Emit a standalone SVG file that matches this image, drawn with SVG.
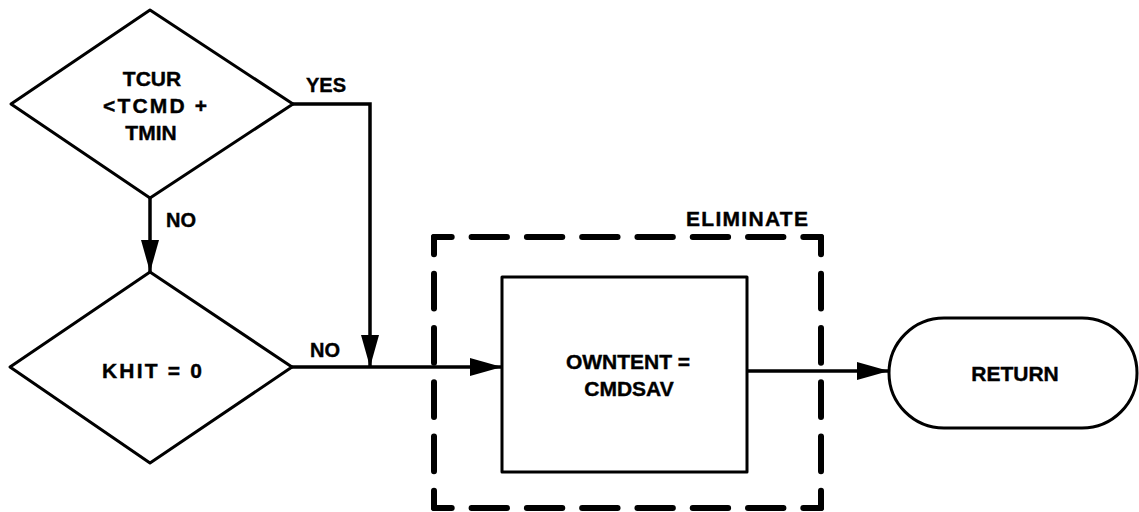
<svg xmlns="http://www.w3.org/2000/svg" width="1139" height="512" viewBox="0 0 1139 512">
  <style>
    .shape { fill: #fff; stroke: #000; stroke-width: 3; stroke-linejoin: round; }
    .conn { fill: none; stroke: #000; stroke-width: 3.5; }
    .dash { fill: none; stroke: #000; stroke-width: 6; stroke-linecap: round; stroke-dasharray: 64 36; stroke-dashoffset: 32; }
    text { font-family: "Liberation Sans", Arial, sans-serif; font-weight: bold; fill: #000; stroke: #000; stroke-width: 0.4; text-anchor: middle; dominant-baseline: central; }
    .t { font-size: 21px; }
    .lbl { font-size: 20px; }
  </style>
  <defs>
    <marker id="arrow" markerUnits="userSpaceOnUse" markerWidth="32" markerHeight="18" refX="32" refY="9" orient="auto">
      <path d="M0,0 L32,9 L0,18 Z" fill="#000"/>
    </marker>
  </defs>

  <g id="connectors">
    <polyline class="conn" points="293,104 370,104 370,367" marker-end="url(#arrow)"/>
    <line class="conn" x1="150" y1="198" x2="150" y2="272" marker-end="url(#arrow)"/>
    <line class="conn" x1="292" y1="367" x2="502" y2="367" marker-end="url(#arrow)"/>
    <line class="conn" x1="747" y1="371" x2="889" y2="371" marker-end="url(#arrow)"/>
    <text class="lbl" x="326" y="85">YES</text>
    <text class="lbl" x="181" y="220">NO</text>
    <text class="lbl" x="325" y="350">NO</text>
  </g>

  <g id="decision-tcur">
    <polygon class="shape" points="150,10 293,104 150,198 11,104"/>
    <text class="t" x="152" y="78">TCUR</text>
    <text class="t" x="155" y="105" textLength="104" lengthAdjust="spacing">&lt;TCMD +</text>
    <text class="t" x="151" y="132">TMIN</text>
  </g>

  <g id="decision-khit">
    <polygon class="shape" points="150,272 292,367 150,463 10,367"/>
    <text class="t" x="152" y="370" textLength="100" lengthAdjust="spacing">KHIT = 0</text>
  </g>

  <g id="eliminate">
    <line class="dash" x1="434" y1="237" x2="821" y2="237" pathLength="700"/>
    <line class="dash" x1="821" y1="237" x2="821" y2="508" pathLength="500"/>
    <line class="dash" x1="821" y1="508" x2="434" y2="508" pathLength="700"/>
    <line class="dash" x1="434" y1="508" x2="434" y2="237" pathLength="500"/>
    <text class="t" x="747" y="218" textLength="122" lengthAdjust="spacing">ELIMINATE</text>
  </g>

  <g id="process-owntent">
    <rect class="shape" x="502" y="277" width="245" height="195"/>
    <text class="t" x="628" y="361">OWNTENT =</text>
    <text class="t" x="629" y="388">CMDSAV</text>
  </g>

  <g id="terminal-return">
    <rect class="shape" x="889" y="318" width="248" height="110" rx="55" ry="55"/>
    <text class="t" x="1015" y="373">RETURN</text>
  </g>
</svg>
